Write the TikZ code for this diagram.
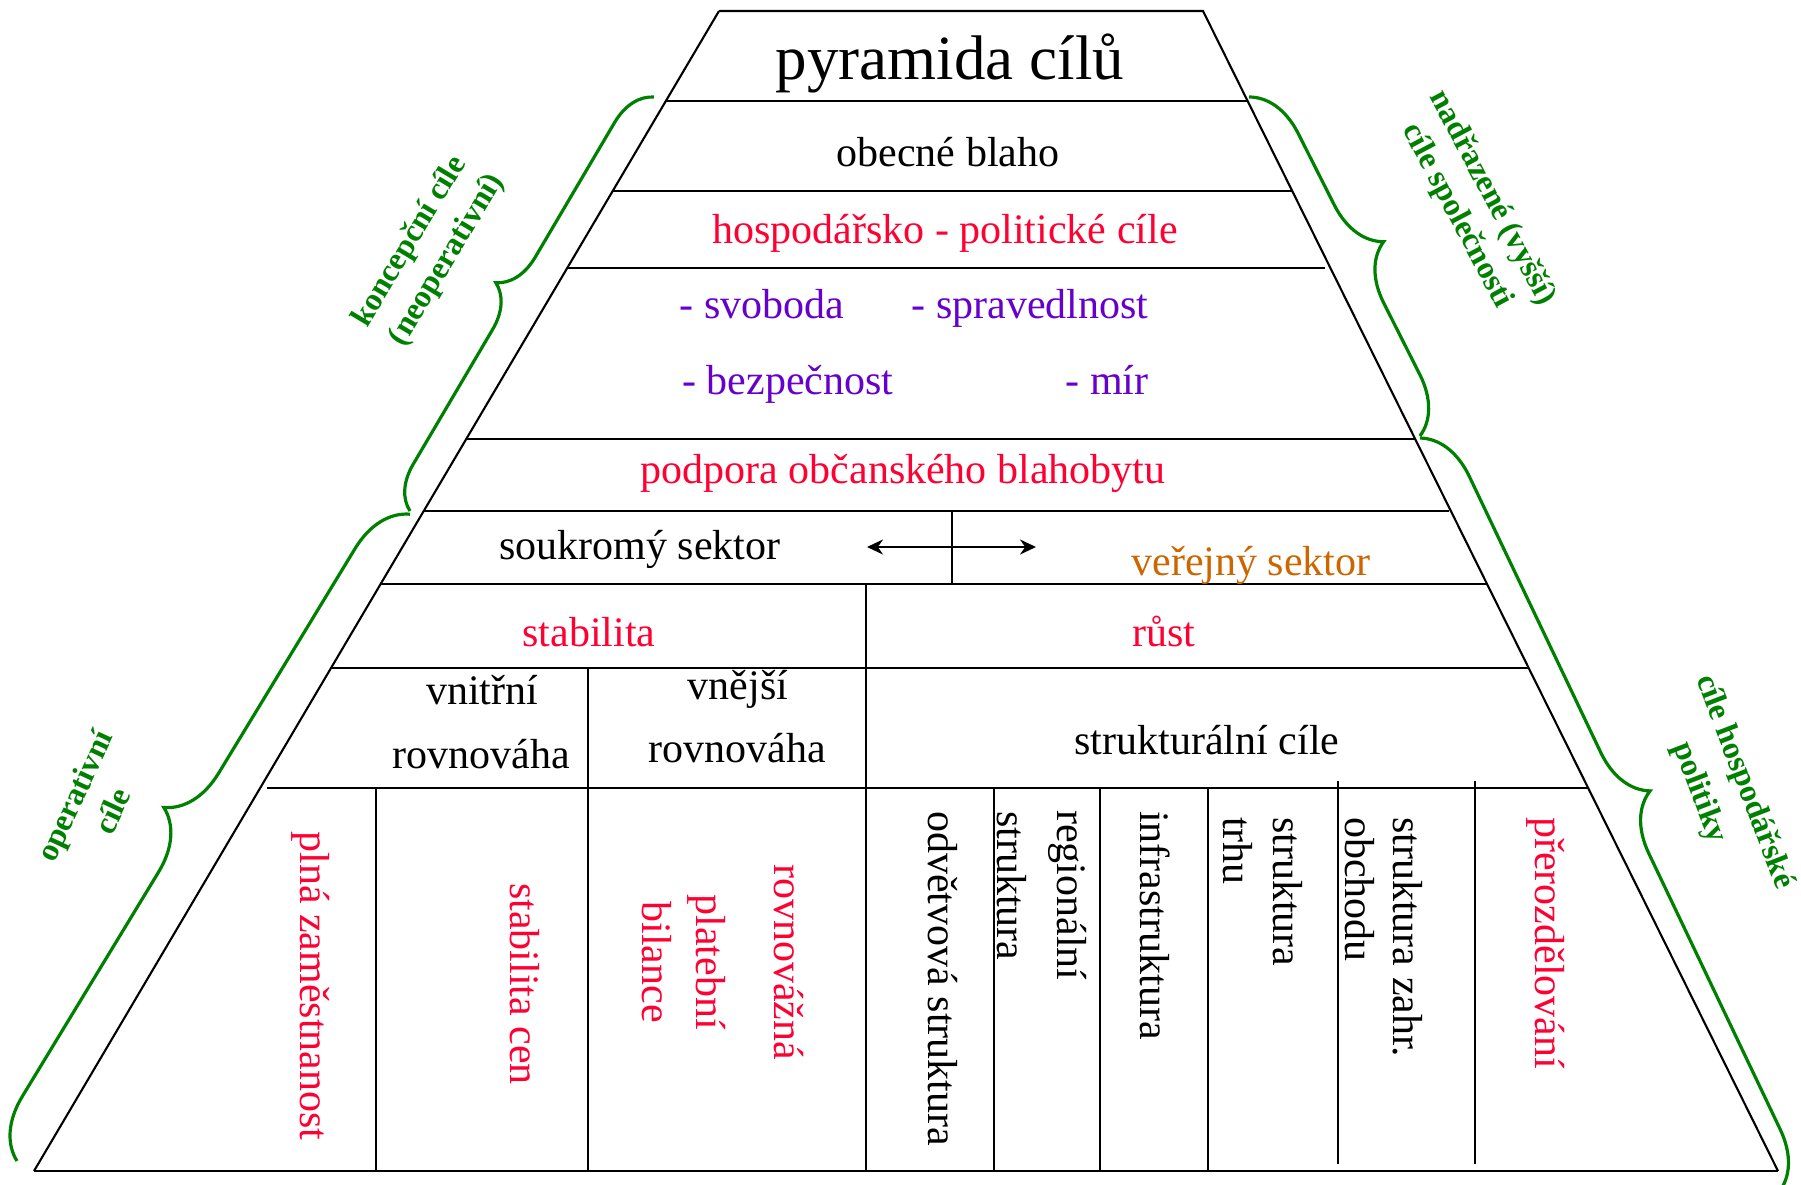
\documentclass[tikz,border=0pt]{standalone}
\usepackage{fontspec}
\setmainfont{Liberation Serif}
\usetikzlibrary{decorations.pathreplacing,arrows.meta}
\definecolor{cred}{HTML}{FF0033}
\definecolor{cpurple}{HTML}{6600CC}
\definecolor{corange}{HTML}{CC6600}
\definecolor{cgreen}{HTML}{008000}
\begin{document}
\begin{tikzpicture}[x=1pt,y=-1pt,
  txt/.style={font=\fontsize{42}{50}\selectfont, inner sep=0pt},
  vtxt/.style={txt, rotate=-90},
  lbl/.style={font=\fontsize{32}{38}\selectfont\bfseries, text=cgreen, inner sep=0pt},
  hline/.style={line width=2.8pt},
  vline/.style={line width=2.3pt},
  side/.style={line width=2.1pt},
  brc/.style={draw=cgreen, line width=3.2pt, decorate, decoration={brace, amplitude=#1}}
]
\useasboundingbox (0,0) rectangle (1801,1185);

% pyramid outline
\coordinate (tl) at (719,11);
\coordinate (tr) at (1203,11);
\coordinate (br) at (1778,1171);
\coordinate (bl) at (34,1171);
\draw[side] (tl) -- (tr) -- (br);
\draw[side] (tl) -- (bl);
\draw[hline] (bl) -- (br);

% horizontal rules
\draw[hline] (666,101) -- (1248,101);
\draw[hline] (612,191) -- (1292,191);
\draw[hline] (567,268) -- (1325,268);
\draw[hline] (466,439) -- (1415,439);
\draw[hline] (423,511) -- (1449,511);
\draw[hline] (380,584) -- (1487,584);
\draw[hline] (331,668) -- (1529,668);
\draw[hline] (267,788) -- (1589,788);

% vertical rules
\draw[vline] (952,511) -- (952,584);
\draw[vline] (866,584) -- (866,1171);
\draw[vline] (588,668) -- (588,1171);
\draw[vline] (376,788) -- (376,1171);
\draw[vline] (994,788) -- (994,1171);
\draw[vline] (1100,788) -- (1100,1171);
\draw[vline] (1208,788) -- (1208,1171);
\draw[vline] (1338,781) -- (1338,1164);
\draw[vline] (1475,781) -- (1475,1164);

% double arrow
\coordinate (aL) at (867,547);
\coordinate (aR) at (1036,547);
\draw[line width=2.4pt, {Stealth[length=16pt,width=15pt]}-{Stealth[length=16pt,width=15pt]}] (aL) -- (aR);

% texts
\node[txt, font=\fontsize{63}{70}\selectfont, anchor=base] (title) at (950,80) {pyramida cílů};
\node[txt, anchor=base] (obecne) at (948,167) {obecné blaho};
\node[txt, anchor=base, text=cred] (hosp) at (945,243) {hospodářsko - politické cíle};
\node[txt, anchor=base, text=cpurple] (svob) at (762,318) {- svoboda};
\node[txt, anchor=base, text=cpurple] (sprav) at (1030,318) {- spravedlnost};
\node[txt, anchor=base, text=cpurple] (bezp) at (788,394) {- bezpečnost};
\node[txt, anchor=base, text=cpurple] (mir) at (1107,394) {- mír};
\node[txt, anchor=base, text=cred] (podpora) at (903,483) {podpora občanského blahobytu};
\node[txt, anchor=base] (soukr) at (640,559) {soukromý sektor};
\node[txt, anchor=base, text=corange] (verej) at (1251,575) {veřejný sektor};
\node[txt, anchor=base, text=cred] (stab) at (589,646) {stabilita};
\node[txt, anchor=base, text=cred] (rust) at (1164,646) {růst};
\node[txt, anchor=base] (vnitr) at (482,704) {vnitřní};
\node[txt, anchor=base] (rovn1) at (481,768) {rovnováha};
\node[txt, anchor=base] (vnej) at (738,699) {vnější};
\node[txt, anchor=base] (rovn2) at (737,762) {rovnováha};
\node[txt, anchor=base] (strukt) at (1207,754) {strukturální cíle};

% vertical texts
\node[vtxt, text=cred] (plna) at (311,986) {plná zaměstnanost};
\node[vtxt, text=cred] (stabcen) at (525,984) {stabilita cen};
\node[vtxt, text=cred] (rovnaz) at (789,962) {rovnovážná};
\node[vtxt, text=cred] (plateb) at (707,962) {platební};
\node[vtxt, text=cred] (bilance) at (657,962) {bilance};
\node[vtxt, anchor=west] (odvet) at (943,811) {odvětvová struktura};
\node[vtxt, anchor=west] (region) at (1068,810) {regionální};
\node[vtxt, anchor=west] (regstr) at (1012,811) {struktura};
\node[vtxt, anchor=west] (infra) at (1155,811) {infrastruktura};
\node[vtxt, anchor=west] (trhstr) at (1288,817) {struktura};
\node[vtxt, anchor=west] (trhu) at (1238,817) {trhu};
\node[vtxt, anchor=west] (zahr) at (1408,817) {struktura zahr.};
\node[vtxt, anchor=west] (obch) at (1360,817) {obchodu};
\node[vtxt, anchor=west, text=cred] (prer) at (1546,817) {přerozdělování};

% braces
\coordinate (b1s) at (410,511);
\coordinate (b1e) at (654,97);
\draw[brc=42] (b1s) -- (b1e);
\coordinate (b2s) at (17,1161);
\coordinate (b2e) at (410,514);
\draw[brc=58] (b2s) -- (b2e);
\coordinate (b3s) at (1249,97);
\coordinate (b3e) at (1420,436);
\draw[brc=55] (b3s) -- (b3e);
\coordinate (b4s) at (1420,438);
\coordinate (b4e) at (1779,1192);
\draw[brc=56] (b4s) -- (b4e);

% green labels
\node[lbl, rotate=59] (konc1) at (410,242) {koncepční cíle};
\node[lbl, rotate=59] (konc2) at (447,260) {(neoperativní)};
\node[lbl, rotate=65] (oper1) at (77,797) {operativní};
\node[lbl, rotate=65] (oper2) at (112,811) {cíle};
\node[lbl, rotate=-62] (nadr1) at (1492,198) {nadřazené (vyšší)};
\node[lbl, rotate=-62] (nadr2) at (1457,216) {cíle společnosti};
\node[lbl, rotate=-69] (hp1) at (1744,782) {cíle hospodářské};
\node[lbl, rotate=-69] (hp2) at (1699,793) {politiky};
\end{tikzpicture}
\end{document}
